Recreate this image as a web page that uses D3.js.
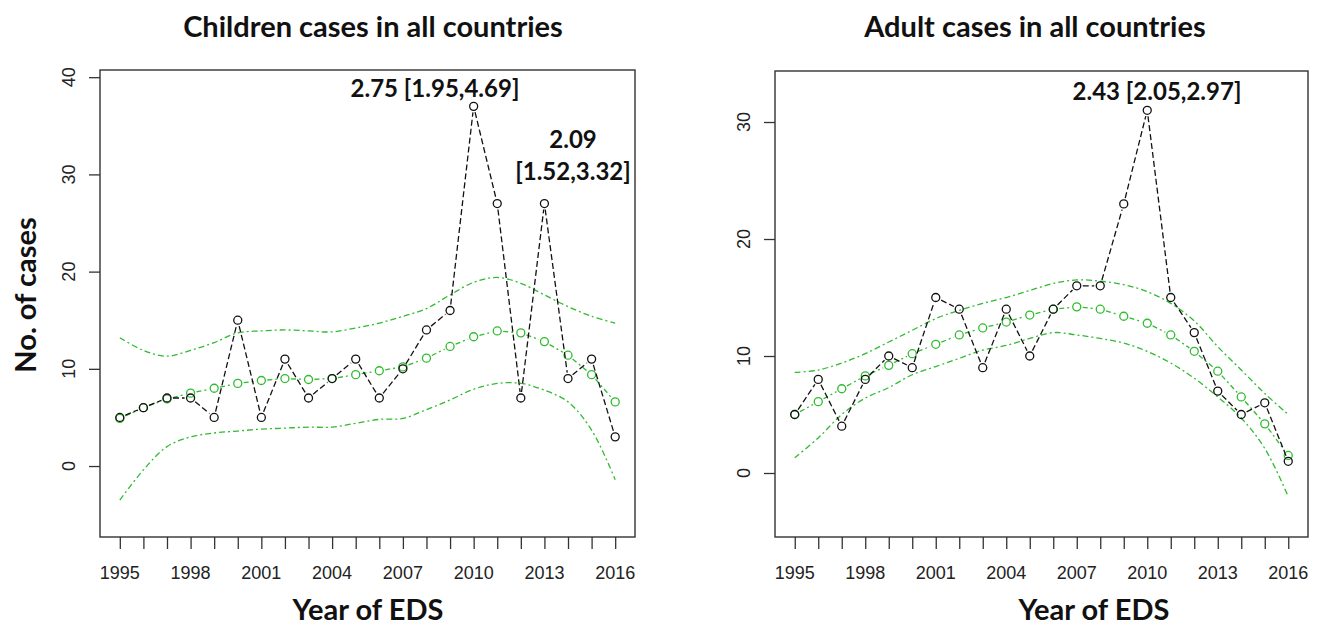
<!DOCTYPE html>
<html>
<head>
<meta charset="utf-8">
<script src="https://cdn.jsdelivr.net/npm/d3@7"></script>
<style>
  body { margin: 0; background: #fff; }
  svg { display: block; }
  .tick-lab { font-family: "Liberation Sans", Arial, sans-serif; font-size: 18px; fill: #222; }
  .ttl { font-family: Lato, "Open Sans", sans-serif; font-weight: bold; fill: #111; }
</style>
</head>
<body>
<svg id="chart" width="1317" height="627"></svg>
<script>
// years on the x axis
var years = [1995,1996,1997,1998,1999,2000,2001,2002,2003,2004,2005,
             2006,2007,2008,2009,2010,2011,2012,2013,2014,2015,2016]
var yearLabels = [1995,1998,2001,2004,2007,2010,2013,2016]

// children panel
var childObs = [5,6,7,7,5,15,5,11,7,9,11,7,10,14,16,37,27,7,27,9,11,3]
var childFit = [4.9,6.0,6.9,7.5,8.0,8.5,8.8,9.0,8.9,9.0,9.4,9.8,10.2,11.1,12.3,13.3,13.9,13.7,12.8,11.4,9.4,6.6]
var childUp  = [13.2,11.9,11.3,11.9,12.7,13.7,13.9,14.0,13.9,13.8,14.2,14.7,15.4,16.2,17.6,18.9,19.4,18.8,17.6,16.4,15.4,14.7]
var childLo  = [-3.5,-0.4,2.0,3.0,3.4,3.6,3.8,3.9,4.0,4.0,4.4,4.8,4.9,5.8,6.8,7.9,8.5,8.5,7.8,6.6,3.7,-1.4]
var childTicks = [0,10,20,30,40]

// adult panel
var adultObs = [5,8,4,8,10,9,15,14,9,14,10,14,16,16,23,31,15,12,7,5,6,1]
var adultFit = [5.0,6.1,7.2,8.3,9.2,10.2,11.0,11.8,12.4,12.9,13.5,14.0,14.2,14.0,13.4,12.8,11.8,10.4,8.7,6.5,4.2,1.5]
var adultUp  = [8.6,8.8,9.4,10.2,11.2,12.2,13.2,13.9,14.5,15.0,15.6,16.2,16.5,16.4,16.1,15.5,14.5,13.0,10.8,8.8,6.8,5.0]
var adultLo  = [1.3,3.0,5.0,6.4,7.3,8.4,9.1,9.8,10.5,10.9,11.5,12.0,11.8,11.5,11.1,10.4,9.4,8.1,6.5,4.7,2.1,-2.0]
var adultTicks = [0,10,20,30]

var green = "#30bb30"
var svg = d3.select("#chart")
svg.append("rect").attr("width", 1317).attr("height", 627).attr("fill", "#fff")

// draws the segments of an R type="b" line, leaving a gap round each point
function gappedLine(g, pts, gap, color, dash) {
    for (var i = 0; i < pts.length - 1; i++) {
        var a = pts[i], b = pts[i + 1]
        var dx = b[0] - a[0], dy = b[1] - a[1]
        var len = Math.sqrt(dx * dx + dy * dy)
        if (len <= 2 * gap) continue
        var ux = dx / len, uy = dy / len
        g.append("line")
        .attr("x1", a[0] + ux * gap).attr("y1", a[1] + uy * gap)
        .attr("x2", b[0] - ux * gap).attr("y2", b[1] - uy * gap)
        .attr("stroke", color).attr("stroke-width", 1.3)
        .attr("stroke-dasharray", dash)
    }
}

function drawPanel(p) {
    const x = d3.scaleLinear().domain([1994.16, 2016.84]).range([p.left, p.right])
    const y = d3.scaleLinear().domain(p.yDomain).range([p.bottom, p.top])
    const g = svg.append("g")

    // y axis ticks + rotated labels
    const yAxis = g.append("g").attr("transform", `translate(${p.left},0)`)
    .call(d3.axisLeft(y).tickValues(p.yTicks).tickSize(11).tickFormat(""))
    yAxis.select(".domain").remove()
    yAxis.selectAll("line").attr("stroke", "#333").attr("stroke-width", 1.3)
    g.selectAll(".ylab").data(p.yTicks).enter().append("text")
    .attr("class", "tick-lab")
    .attr("transform", d => `translate(${p.left - 25},${y(d)}) rotate(-90)`)
    .attr("text-anchor", "middle")
    .text(d => d)

    // x axis ticks every year, labels every 3 years
    const xAxis = g.append("g").attr("transform", `translate(0,${p.bottom})`)
    .call(d3.axisBottom(x).tickValues(years).tickSize(12).tickFormat(""))
    xAxis.select(".domain").remove()
    xAxis.selectAll("line").attr("stroke", "#333").attr("stroke-width", 1.3)
    g.selectAll(".xlab").data(yearLabels).enter().append("text")
    .attr("class", "tick-lab")
    .attr("x", d => x(d)).attr("y", p.bottom + 42)
    .attr("text-anchor", "middle")
    .text(d => d)

    // box
    g.append("rect")
    .attr("x", p.left).attr("y", p.top)
    .attr("width", p.right - p.left).attr("height", p.bottom - p.top)
    .attr("fill", "none").attr("stroke", "#333").attr("stroke-width", 1.4)

    // confidence bands
    const band = d3.line().x((d, i) => x(years[i])).y(d => y(d)).curve(d3.curveCatmullRom)
    ;[p.up, p.lo].forEach(function (s) {
        g.append("path").attr("d", band(s))
        .attr("fill", "none").attr("stroke", green).attr("stroke-width", 1.3)
        .attr("stroke-dasharray", "6,3,2,3")
    })

    // fitted values
    const fitPts = p.fit.map((v, i) => [x(years[i]), y(v)])
    gappedLine(g, fitPts, 6, green, "5,3,2,3")
    g.selectAll(".fit").data(fitPts).enter().append("circle")
    .attr("cx", d => d[0]).attr("cy", d => d[1]).attr("r", 4)
    .attr("fill", "none").attr("stroke", green).attr("stroke-width", 1.3)

    // observed
    const obsPts = p.obs.map((v, i) => [x(years[i]), y(v)])
    gappedLine(g, obsPts, 6, "#111", "6,3")
    g.selectAll(".obs").data(obsPts).enter().append("circle")
    .attr("cx", d => d[0]).attr("cy", d => d[1]).attr("r", 4)
    .attr("fill", "none").attr("stroke", "#111").attr("stroke-width", 1.3)

    // titles
    g.append("text").attr("class", "ttl").style("font-size", "29px")
    .attr("x", p.titleX).attr("y", 37).attr("text-anchor", "middle").text(p.title)
    g.append("text").attr("class", "ttl").style("font-size", "29px")
    .attr("x", p.xlabX).attr("y", 620).attr("text-anchor", "middle").text("Year of EDS")

    // annotations
    p.notes.forEach(function (n) {
        g.append("text").attr("class", "ttl").style("font-size", "24px")
        .attr("x", n.x).attr("y", n.y).attr("text-anchor", "middle").text(n.t)
    })
}

drawPanel({
    left: 100, right: 635, top: 70, bottom: 537,
    yDomain: [-7.3, 40.74], yTicks: childTicks,
    obs: childObs, fit: childFit, up: childUp, lo: childLo,
    title: "Children cases in all countries", titleX: 373, xlabX: 368,
    notes: [{x: 435, y: 97, t: "2.75 [1.95,4.69]"},
            {x: 573, y: 148, t: "2.09"},
            {x: 573, y: 180, t: "[1.52,3.32]"}]
})

drawPanel({
    left: 775, right: 1308, top: 71, bottom: 537,
    yDomain: [-5.47, 34.36], yTicks: adultTicks,
    obs: adultObs, fit: adultFit, up: adultUp, lo: adultLo,
    title: "Adult cases in all countries", titleX: 1035, xlabX: 1094,
    notes: [{x: 1157, y: 100, t: "2.43 [2.05,2.97]"}]
})

// y axis title, left panel only
svg.append("text").attr("class", "ttl").style("font-size", "29px")
.attr("transform", "translate(36,295) rotate(-90)")
.attr("text-anchor", "middle")
.text("No. of cases")
</script>
</body>
</html>
